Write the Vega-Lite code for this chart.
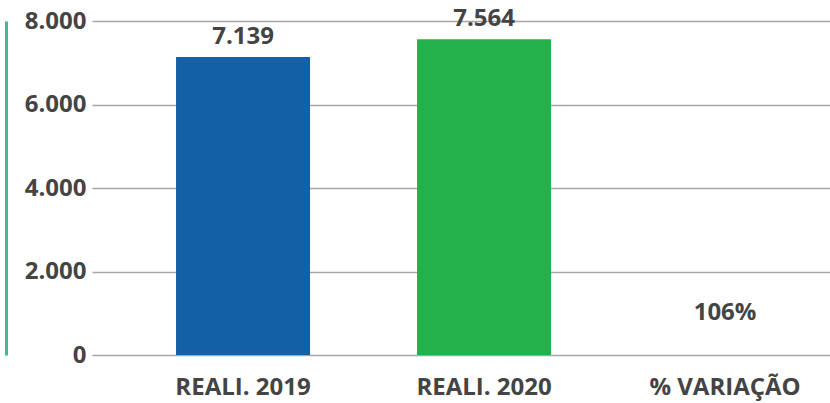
{
  "$schema": "https://vega.github.io/schema/vega-lite/v6.json",
  "width": 738,
  "height": 334,
  "autosize": {"type": "none"},
  "padding": {"left": 92, "top": 21, "right": 0, "bottom": 48},
  "background": "white",
  "config": {
    "view": {"stroke": null},
    "font": "Open Sans"
  },
  "data": {
    "values": [
      {"categoria": "REALI. 2019", "valor": 7139, "rotulo": "7.139", "tipo": "barra"},
      {"categoria": "REALI. 2020", "valor": 7564, "rotulo": "7.564", "tipo": "barra"},
      {"categoria": "% VARIAÇÃO", "valor": 106, "rotulo": "106%", "tipo": "variacao"}
    ]
  },
  "encoding": {
    "x": {
      "field": "categoria",
      "type": "nominal",
      "sort": null,
      "scale": {"paddingInner": 0.444, "paddingOuter": 0.253, "align": 0.689},
      "axis": {
        "title": null,
        "labelAngle": 0,
        "domain": false,
        "ticks": false,
        "labelFont": "Open Sans",
        "labelFontWeight": "bold",
        "labelFontSize": 24,
        "labelColor": "#444444",
        "labelPadding": 20
      }
    }
  },
  "layer": [
    {
      "transform": [{"filter": "datum.tipo === 'barra'"}],
      "mark": {"type": "bar"},
      "encoding": {
        "y": {
          "field": "valor",
          "type": "quantitative",
          "scale": {"domain": [0, 8000]},
          "axis": {
            "title": null,
            "values": [0, 2000, 4000, 6000, 8000],
            "labelExpr": "replace(format(datum.value, ','), ',', '.')",
            "grid": true,
            "gridColor": "#a6a6a6",
            "gridWidth": 1.5,
            "domain": true,
            "domainColor": "#3dba98",
            "domainWidth": 3,
            "offset": 86,
            "ticks": false,
            "tickSize": 0,
            "labelPadding": -80,
            "labelFont": "Open Sans",
            "labelFontWeight": "bold",
            "labelFontSize": 24,
            "labelColor": "#444444"
          }
        },
        "color": {
          "field": "categoria",
          "type": "nominal",
          "scale": {"domain": ["REALI. 2019", "REALI. 2020"], "range": ["#1460a5", "#24b04b"]},
          "legend": null
        }
      }
    },
    {
      "transform": [{"filter": "datum.tipo === 'barra'"}],
      "mark": {"type": "text", "dy": -20, "fontWeight": "bold", "fontSize": 24, "color": "#444444", "font": "Open Sans"},
      "encoding": {
        "y": {"field": "valor", "type": "quantitative"},
        "text": {"field": "rotulo"}
      }
    },
    {
      "transform": [{"filter": "datum.tipo === 'variacao'"}],
      "mark": {"type": "text", "dy": -38, "fontWeight": "bold", "fontSize": 24, "color": "#444444", "font": "Open Sans"},
      "encoding": {
        "y": {"field": "valor", "type": "quantitative"},
        "text": {"field": "rotulo"}
      }
    }
  ]
}
